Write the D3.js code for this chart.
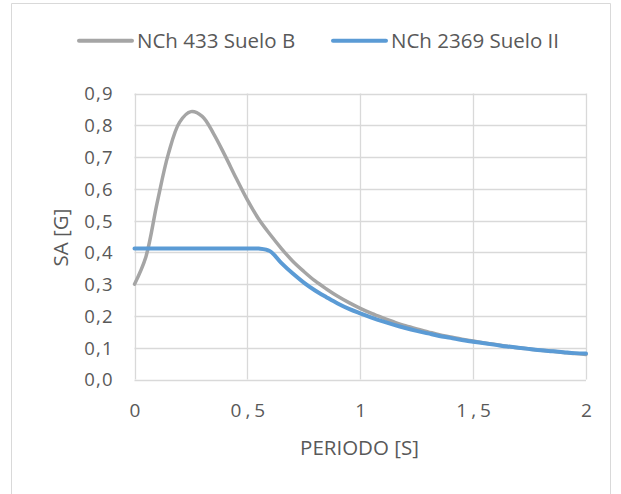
<!DOCTYPE html>
<html>
<head>
<meta charset="utf-8">
<script src="https://cdn.jsdelivr.net/npm/d3@7"></script>
<style>
  html, body { margin: 0; padding: 0; background: #fff; }
  svg { display: block; font-family: "Open Sans", sans-serif; }
</style>
</head>
<body>
<svg id="chart" width="621" height="494"></svg>
<script>
// ---- data ----
const periods = [0,0.05,0.1,0.15,0.2,0.25,0.3,0.35,0.4,0.45,0.5,0.55,0.6,0.65,0.7,0.75,0.8,0.85,0.9,0.95,1.0,
  1.05,1.1,1.15,1.2,1.25,1.3,1.35,1.4,1.45,1.5,1.55,1.6,1.65,1.7,1.75,1.8,1.85,1.9,1.95,2.0];
const nch433 = [0.30,0.385,0.555,0.71,0.81,0.843,0.828,0.774,0.706,0.634,0.565,0.505,0.457,0.413,0.373,0.34,0.31,0.285,0.262,0.242,0.224,
  0.208,0.194,0.181,0.169,0.159,0.150,0.141,0.134,0.127,0.121,0.115,0.110,0.105,0.100,0.096,0.092,0.089,0.085,0.082,0.079];
const nch2369 = [0.412,0.412,0.412,0.412,0.412,0.412,0.412,0.412,0.412,0.412,0.412,0.412,0.404,0.367,0.334,0.305,0.28,0.259,0.239,0.222,0.208,
  0.195,0.183,0.172,0.162,0.153,0.145,0.137,0.131,0.124,0.119,0.114,0.109,0.104,0.100,0.096,0.092,0.089,0.086,0.083,0.082];
const seriesNames = ["NCh 433 Suelo B", "NCh 2369 Suelo II"];
const seriesColors = ["#A5A5A5", "#5B9BD5"];
const xTicks = [0, 0.5, 1, 1.5, 2];
const yTicks = [0,0.1,0.2,0.3,0.4,0.5,0.6,0.7,0.8,0.9];
const xTitle = "PERIODO [S]";
const yTitle = "SA [G]";

const svg = d3.select("#chart");
const fmt = v => String(v).replace(".", ",");
const fmtY = v => v.toFixed(1).replace(".", ",");

// outer frame
svg.append("path")
  .attr("d", "M11.5,500 V3.5 H610.5 V500")
  .attr("fill", "none").attr("stroke", "#D9D9D9").attr("stroke-width", 1);

const x = d3.scaleLinear().domain([0, 2]).range([134.5, 586]);
const y = d3.scaleLinear().domain([0, 0.9]).range([379.5, 93.5]);

// gridlines
const grid = svg.append("g");
grid.selectAll("line.h").data(yTicks).join("line")
  .attr("x1", x(0)).attr("x2", x(2))
  .attr("y1", d => Math.round(y(d)) + 0.5).attr("y2", d => Math.round(y(d)) + 0.5)
  .attr("stroke", "#D9D9D9").attr("stroke-width", 1.3);
grid.selectAll("line.v").data(xTicks).join("line")
  .attr("y1", y(0)).attr("y2", y(0.9))
  .attr("x1", d => Math.round(x(d)) + 0.5).attr("x2", d => Math.round(x(d)) + 0.5)
  .attr("stroke", "#D9D9D9").attr("stroke-width", 1.3);

// axes labels via d3 axes (domain/ticks hidden)
const yAxis = svg.append("g").attr("transform", `translate(${x(0)},0)`)
  .call(d3.axisLeft(y).tickValues(yTicks).tickFormat(fmtY).tickSize(0).tickPadding(22));
yAxis.select(".domain").remove();
yAxis.selectAll("text")
  .attr("font-family", "Open Sans").attr("font-size", 18.5).attr("fill", "#595959")
  .style("letter-spacing", "1.2px").attr("dx", "1.2px").attr("dy", "0.35em");

const xAxis = svg.append("g").attr("transform", `translate(0,${y(0)})`)
  .call(d3.axisBottom(x).tickValues(xTicks).tickFormat(fmt).tickSize(0).tickPadding(24));
xAxis.select(".domain").remove();
xAxis.selectAll("text")
  .attr("font-family", "Open Sans").attr("font-size", 19).attr("fill", "#595959")
  .style("letter-spacing", "4px").attr("dx", "2px").attr("dy", "0.71em");

// lines
const line = d3.line().x(d => x(d[0])).y(d => y(d[1])).curve(d3.curveCatmullRom.alpha(0.5));
const seriesData = [nch433, nch2369].map(vals => periods.map((p, i) => [p, vals[i]]));
const widths = [3.5, 4];
seriesData.forEach((s, i) => {
  svg.append("path").datum(s)
    .attr("d", line)
    .attr("fill", "none")
    .attr("stroke", seriesColors[i])
    .attr("stroke-width", widths[i])
    .attr("stroke-linejoin", "round")
    .attr("stroke-linecap", "round");
});

// axis titles
svg.append("text").attr("x", 359.5).attr("y", 455)
  .attr("text-anchor", "middle").attr("font-size", 20.5).attr("fill", "#595959")
  .text(xTitle);
svg.append("text").attr("transform", "translate(68,237.5) rotate(-90)")
  .attr("text-anchor", "middle").attr("font-size", 20.5).attr("fill", "#595959")
  .text(yTitle);

// legend
const legendX = [79, 333];
const legend = svg.append("g");
seriesNames.forEach((name, i) => {
  legend.append("line")
    .attr("x1", legendX[i]).attr("x2", legendX[i] + 53)
    .attr("y1", 40.7).attr("y2", 40.7)
    .attr("stroke", seriesColors[i]).attr("stroke-width", 4).attr("stroke-linecap", "round");
  legend.append("text")
    .attr("x", legendX[i] + 58).attr("y", 48)
    .attr("font-size", 20.5).attr("fill", "#595959")
    .text(name);
});
</script>
</body>
</html>
